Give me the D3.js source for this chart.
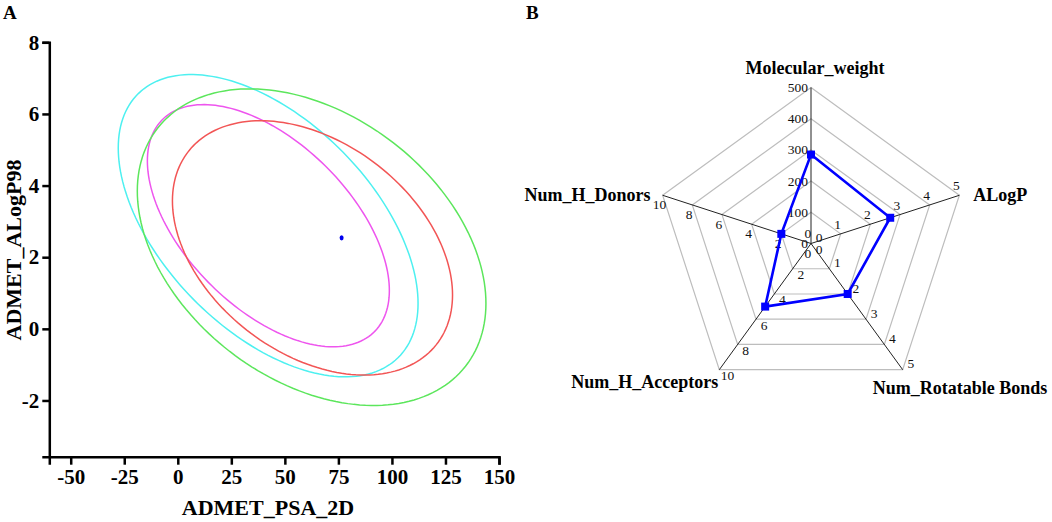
<!DOCTYPE html>
<html>
<head>
<meta charset="utf-8">
<script src="https://cdn.jsdelivr.net/npm/d3@7"></script>
<style>
  body { margin: 0; background: #fff; }
  svg { font-family: "Liberation Serif", "Times New Roman", serif; }
</style>
</head>
<body>
<svg id="chart" width="1052" height="522"></svg>
<script>
// panel A: confidence ellipses (centre, half x-extent, half y-extent, correlation)
const ellipseColors = ['#4df0f0', '#ee55ee', '#f25555', '#5ce65c'];
const ellipseCx = [42.2, 42.3, 62.9, 62.5];
const ellipseCy = [2.88, 2.88, 2.26, 2.28];
const ellipseRx = [70, 56.5, 65.4, 81.4];
const ellipseRy = [4.22, 3.38, 3.55, 4.42];
const ellipseCorr = [-0.514, -0.535, -0.37, -0.355];
const compound = { x: 76.5, y: 2.54 };

const xTicks = [-50, -25, 0, 25, 50, 75, 100, 125, 150];
const yTicks = [-2, 0, 2, 4, 6, 8];

// panel B: radar
const radarAxes = ['Molecular_weight', 'ALogP', 'Num_Rotatable Bonds', 'Num_H_Acceptors', 'Num_H_Donors'];
const radarMax = [500, 5, 5, 10, 10];
const radarStep = [100, 1, 1, 2, 2];
const radarValues = [285, 2.67, 2, 5, 2];

const svg = d3.select('#chart');

// ---------- A ----------
const x = d3.scaleLinear().domain([-60, 150]).range([49.3, 499]);
const y = d3.scaleLinear().domain([-3.57, 8]).range([456.7, 42.3]);

svg.append('text').attr('x', 3).attr('y', 19)
  .attr('font-size', 19).attr('font-weight', 'bold').text('A');

const t = d3.range(0, 361, 2).map(d => d * Math.PI / 180);
const line = d3.line().x(d => d[0]).y(d => d[1]);

ellipseColors.forEach((c, i) => {
  const s = Math.sqrt(1 - ellipseCorr[i] * ellipseCorr[i]);
  const pts = t.map(a => [
    x(ellipseCx[i] + ellipseRx[i] * Math.cos(a)),
    y(ellipseCy[i] + ellipseRy[i] * (ellipseCorr[i] * Math.cos(a) - s * Math.sin(a)))
  ]);
  svg.append('path').attr('d', line(pts) + 'Z')
    .attr('fill', 'none').attr('stroke', c).attr('stroke-width', 1.5);
});

svg.append('ellipse')
  .attr('cx', x(compound.x)).attr('cy', y(compound.y))
  .attr('rx', 2).attr('ry', 2.6).attr('fill', '#0000ee');

const xAxis = svg.append('g').attr('transform', `translate(0,${y(-3.57)})`)
  .call(d3.axisBottom(x).tickValues(xTicks).tickSize(8).tickPadding(4).tickFormat(d => String(d)));
const yAxis = svg.append('g').attr('transform', `translate(${x(-60)},0)`)
  .call(d3.axisLeft(y).tickValues(yTicks).tickSize(7).tickPadding(3).tickFormat(d => String(d)));

[xAxis, yAxis].forEach(g => {
  g.select('.domain').attr('stroke', '#000').attr('stroke-width', 2.5);
  g.selectAll('.tick line').attr('stroke', '#000').attr('stroke-width', 2.5);
  g.selectAll('.tick text').attr('fill', '#000')
    .attr('font-family', '"Liberation Serif", serif')
    .attr('font-size', 21).attr('font-weight', 'bold');
});

svg.append('text').attr('x', 268).attr('y', 515).attr('text-anchor', 'middle')
  .attr('font-size', 22).attr('font-weight', 'bold').text('ADMET_PSA_2D');
svg.append('text').attr('transform', 'translate(21,250) rotate(-90)')
  .attr('text-anchor', 'middle')
  .attr('font-size', 22).attr('font-weight', 'bold').text('ADMET_ALogP98');

// ---------- B ----------
const cx = 811, cy = 243.5, R = 156;
const ang = i => i * 2 * Math.PI / radarAxes.length;
const pt = (i, f) => [cx + R * f * Math.sin(ang(i)), cy - R * f * Math.cos(ang(i))];

svg.append('text').attr('x', 526).attr('y', 19)
  .attr('font-size', 19).attr('font-weight', 'bold').text('B');

const radar = svg.append('g');

// grid pentagons
d3.range(1, 6).forEach(k => {
  radar.append('path')
    .attr('d', line(radarAxes.map((a, i) => pt(i, k / 5))) + 'Z')
    .attr('fill', 'none').attr('stroke', '#bdbdbd').attr('stroke-width', 1.2);
});

// spokes
radarAxes.forEach((a, i) => {
  const [ex, ey] = pt(i, 1);
  radar.append('line').attr('x1', cx).attr('y1', cy).attr('x2', ex).attr('y2', ey)
    .attr('stroke', '#222').attr('stroke-width', 1);
});

// tick labels along spokes
radarAxes.forEach((a, i) => {
  const sc = d3.scaleLinear().domain([0, radarMax[i]]).range([0, 1]);
  const px = -Math.cos(ang(i)), py = -Math.sin(ang(i));
  d3.range(0, radarMax[i] + 1e-9, radarStep[i]).forEach(v => {
    const [qx, qy] = pt(i, sc(v));
    const txt = radar.append('text').attr('font-size', 13.5).attr('fill', '#111')
      .attr('dominant-baseline', 'central').text(v);
    if (i === 0) {
      txt.attr('x', qx - 3).attr('y', qy).attr('text-anchor', 'end');
    } else {
      txt.attr('x', qx + px * 10).attr('y', qy + py * 10).attr('text-anchor', 'middle');
    }
  });
});

// axis titles
const titlePos = [
  { dx: 4, dy: -14, anchor: 'middle' },
  { dx: 14, dy: 6, anchor: 'start' },
  { dx: -30, dy: 24, anchor: 'start' },
  { dx: -1, dy: 18, anchor: 'end' },
  { dx: -12, dy: 6, anchor: 'end' }
];
radarAxes.forEach((a, i) => {
  const [ex, ey] = pt(i, 1);
  radar.append('text').attr('x', ex + titlePos[i].dx).attr('y', ey + titlePos[i].dy)
    .attr('text-anchor', titlePos[i].anchor)
    .attr('font-size', 18).attr('font-weight', 'bold').text(a);
});

// data polygon
const dataPts = radarValues.map((v, i) => pt(i, v / radarMax[i]));
radar.append('path').attr('d', line(dataPts) + 'Z')
  .attr('fill', 'none').attr('stroke', '#0000ff').attr('stroke-width', 2.6);
radar.selectAll('.mark').data(dataPts).enter().append('rect')
  .attr('class', 'mark')
  .attr('x', d => d[0] - 4).attr('y', d => d[1] - 4)
  .attr('width', 8).attr('height', 8).attr('fill', '#0000ff');
</script>
</body>
</html>
